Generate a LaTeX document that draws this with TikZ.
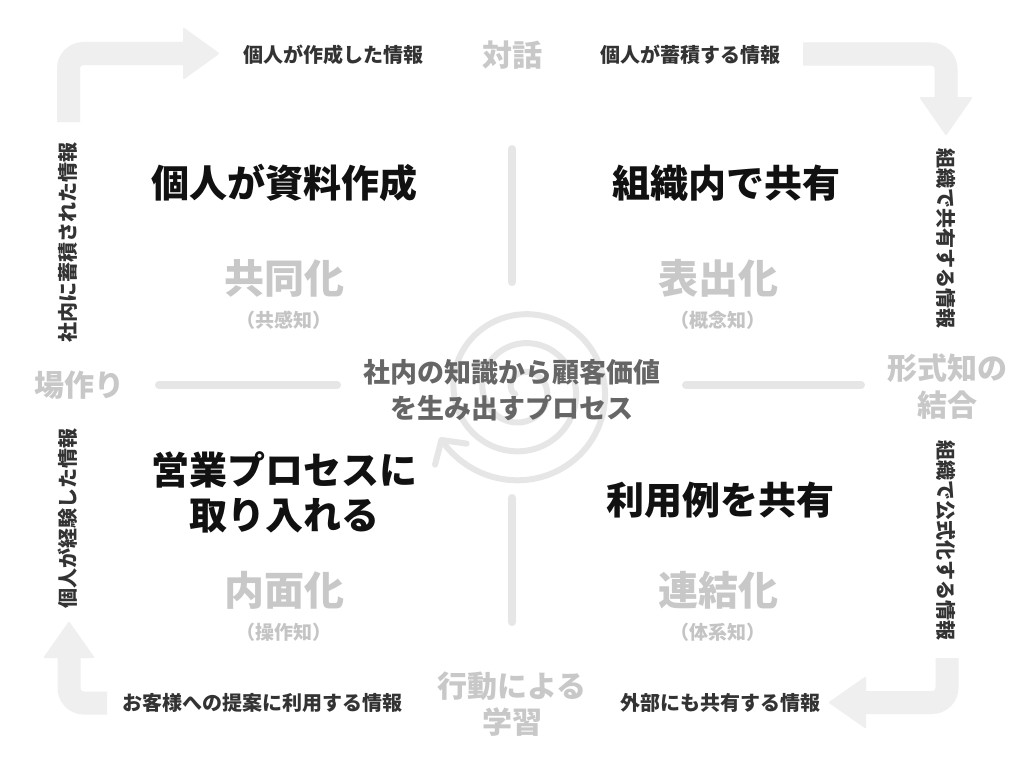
\documentclass[tikz,border=0pt]{standalone}
\usepackage{fontspec}
\setmainfont{Noto Sans CJK JP}
\usetikzlibrary{arrows.meta}
\definecolor{bandc}{RGB}{239,239,239}
\definecolor{linec}{RGB}{230,230,230}
\definecolor{labc}{RGB}{51,51,51}
\definecolor{titc}{RGB}{17,17,17}
\definecolor{grayc}{RGB}{200,200,200}
\definecolor{subc}{RGB}{196,196,196}
\definecolor{ctrc}{RGB}{102,102,102}
\begin{document}
\begin{tikzpicture}[x=1pt,y=-1pt,
  band/.style={draw=bandc,line width=23pt,rounded corners=15pt},
  bhead/.style={fill=bandc,draw=bandc,line width=2pt,line join=round},
  divider/.style={draw=linec,line width=8pt,line cap=round},
  spiral/.style={draw=linec,line width=6pt,line cap=round,-{Straight Barb[length=17pt,width=38pt,round]}},
  lbl/.style={font=\fontsize{20}{24}\selectfont\bfseries,text=labc,inner sep=0pt},
  ttl/.style={font=\fontsize{38}{45}\selectfont\bfseries,text=titc,inner sep=0pt,align=center},
  big/.style={font=\fontsize{40}{46}\selectfont\bfseries,text=grayc,inner sep=0pt},
  sub/.style={font=\fontsize{19}{22}\selectfont\bfseries,text=subc,inner sep=0pt},
  mid/.style={font=\fontsize{30}{36.5}\selectfont\bfseries,text=grayc,inner sep=0pt,align=center},
  ctr/.style={font=\fontsize{27}{36}\selectfont\bfseries,text=ctrc,inner sep=0pt,align=center}]
\useasboundingbox[fill=white] (0,0) rectangle (1024,768);

% spiral
\draw[spiral] plot[domain=0:1080,samples=360,smooth,variable=\t]
  ({522+(8+0.080556*\t)*cos(1290-\t)},{390-(8+0.080556*\t)*sin(1290-\t)});

% corner arrows
\draw[band] (68.5,122) -- (68.5,53.5) -- (186,53.5);
\draw[bhead] (184,29) -- (218,53.5) -- (184,78) -- cycle;
\draw[band] (803,54) -- (946,54) -- (946,99);
\draw[bhead] (921,98) -- (946,134) -- (971,98) -- cycle;
\draw[band] (947,658) -- (947,702.5) -- (864,702.5);
\draw[bhead] (865,678) -- (830,702.5) -- (865,727) -- cycle;
\draw[band] (107,703) -- (69,703) -- (69,655);
\draw[bhead] (45,657) -- (69,623) -- (93,657) -- cycle;

% dividers
\draw[divider] (512,149) -- (512,282);
\draw[divider] (512,498) -- (512,622);
\draw[divider] (159,385) -- (337,385);
\draw[divider] (686,385) -- (861,385);

% edge labels
\node[lbl] (t1) at (333,55) {個人が作成した情報};
\node[mid] (m1) at (512,55) {対話};
\node[lbl] (t2) at (690,55) {個人が蓄積する情報};
\node[lbl,rotate=-90] (r1) at (946,238) {組織で共有する情報};
\node[mid] (m2) at (947,386.5) {形式知の\\結合};
\node[lbl,rotate=-90] (r2) at (946,540) {組織で公式化する情報};
\node[lbl] (b2) at (720,703) {外部にも共有する情報};
\node[mid] (m3) at (512,704) {行動による\\学習};
\node[lbl] (b1) at (262,703) {お客様への提案に利用する情報};
\node[lbl,rotate=90] (l2) at (68,518) {個人が経験した情報};
\node[mid] (m4) at (79,385) {場作り};
\node[lbl,rotate=90] (l1) at (68,242) {社内に蓄積された情報};

% quadrants
\node[ttl] (q1) at (284,183) {個人が資料作成};
\node[big] (q1b) at (284,278) {共同化};
\node[sub] (q1c) at (284,320) {（共感知）};
\node[ttl] (q2) at (726,183) {組織内で共有};
\node[big] (q2b) at (718,278) {表出化};
\node[sub] (q2c) at (718,320) {（概念知）};
\node[ttl] (q3) at (284,492.5) {営業プロセスに\\取り入れる};
\node[big] (q3b) at (284,590) {内面化};
\node[sub] (q3c) at (284,632) {（操作知）};
\node[ttl] (q4) at (720,500) {利用例を共有};
\node[big] (q4b) at (718,590) {連結化};
\node[sub] (q4c) at (718,632) {（体系知）};

% center
\node[ctr] (c) at (512,390) {社内の知識から顧客価値\\を生み出すプロセス};
\end{tikzpicture}
\end{document}
